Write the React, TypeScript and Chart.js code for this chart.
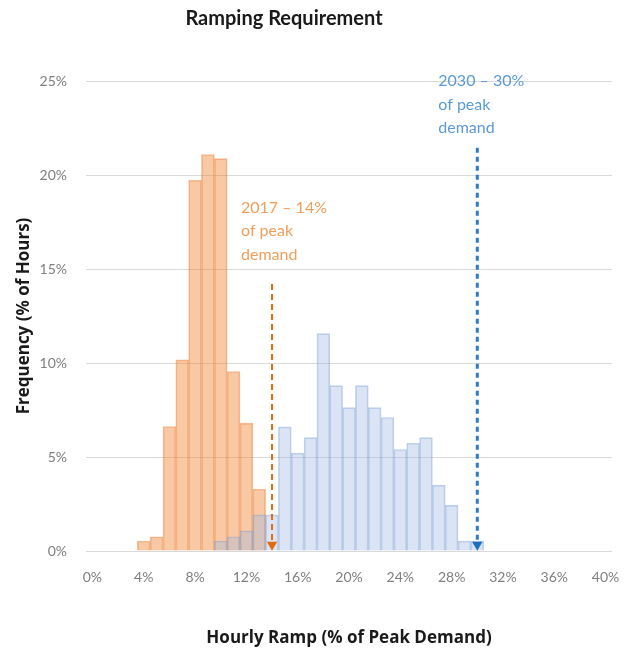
import React, { useEffect, useRef } from 'react';
import { Chart, registerables } from 'chart.js';

Chart.register(...registerables);

// Ramp bins (category axis), one per 1% of peak demand
const binLabels = [
  '0%', '1%', '2%', '3%', '4%', '5%', '6%', '7%', '8%', '9%',
  '10%', '11%', '12%', '13%', '14%', '15%', '16%', '17%', '18%', '19%',
  '20%', '21%', '22%', '23%', '24%', '25%', '26%', '27%', '28%', '29%',
  '30%', '31%', '32%', '33%', '34%', '35%', '36%', '37%', '38%', '39%', '40%',
];
const xTickLabels = ['0%', '4%', '8%', '12%', '16%', '20%', '24%', '28%', '32%', '36%', '40%'];

// Frequency (% of hours), 2017
const freq2017 = [
  null, null, null, null, 0.53, 0.76, 6.62, 10.17, 19.72, 21.09,
  20.87, 9.55, 6.8, 3.3, null, null, null, null, null, null,
  null, null, null, null, null, null, null, null, null, null,
  null, null, null, null, null, null, null, null, null, null, null,
];
// Frequency (% of hours), 2030
const freq2030 = [
  null, null, null, null, null, null, null, null, null, null,
  0.53, 0.76, 1.07, 1.92, 1.92, 6.6, 5.21, 6.03, 11.56, 8.8,
  7.63, 8.8, 7.63, 7.1, 5.4, 5.73, 6.03, 3.5, 2.43, 0.53,
  0.53, null, null, null, null, null, null, null, null, null, null,
];

// Peak-requirement markers
const markerBins = ['14%', '30%'];
const markerTops = [14.2, 21.45];
const markerArrowBase = [0.33, 0.33];

const yMax = 25;
const yStep = 5;

const note2017 = ['2017 – 14%', 'of peak', 'demand'];
const note2030 = ['2030 – 30%', 'of peak', 'demand'];

const FONT = 'Lato, "Open Sans", sans-serif';
const TITLE_FONT = '"Open Sans", Lato, sans-serif';

const annotationPlugin = {
  id: 'annotationsAndTitle',
  afterDatasetsDraw(chart: any) {
    const { ctx, scales } = chart;
    const x = scales.x;
    const y = scales.y;
    ctx.save();
    ctx.textBaseline = 'middle';
    ctx.textAlign = 'left';
    ctx.font = `16px ${FONT}`;
    // 2017 note
    ctx.fillStyle = '#F19E5B';
    const ox = x.getPixelForValue(binLabels.indexOf(markerBins[0])) - 31;
    const oy = y.getPixelForValue(18.26);
    note2017.forEach((t, i) => ctx.fillText(t, ox, oy + i * 23.5));
    // 2030 note
    ctx.fillStyle = '#5B9BD5';
    const bx = x.getPixelForValue(binLabels.indexOf(markerBins[1])) - 39;
    const by = y.getPixelForValue(25);
    note2030.forEach((t, i) => ctx.fillText(t, bx, by + i * 23.5));
    // chart title
    ctx.textAlign = 'center';
    ctx.fillStyle = '#1a1a1a';
    ctx.font = `bold 20px ${FONT}`;
    ctx.fillText('Ramping Requirement', 284, 19);
    ctx.restore();
  },
};

export default function App() {
  const ref = useRef<HTMLCanvasElement | null>(null);

  useEffect(() => {
    if (!ref.current) return;
    const markerData = (i: number) => [
      { x: markerBins[i], y: markerTops[i] },
      { x: markerBins[i], y: markerArrowBase[i] },
    ];
    const chart = new Chart(ref.current, {
      type: 'bar',
      data: {
        labels: binLabels,
        datasets: [
          {
            type: 'line',
            label: '2017 marker',
            data: markerData(0) as any,
            borderColor: '#E46C0A',
            borderWidth: 2,
            borderDash: [6, 4],
            pointRadius: [0, 6],
            pointStyle: 'triangle',
            pointRotation: 180,
            pointBackgroundColor: '#E46C0A',
            pointBorderWidth: 0,
            order: 0,
          } as any,
          {
            type: 'line',
            label: '2030 marker',
            data: markerData(1) as any,
            borderColor: '#2E7BC4',
            borderWidth: 3,
            borderDash: [5, 4],
            pointRadius: [0, 6],
            pointStyle: 'triangle',
            pointRotation: 180,
            pointBackgroundColor: '#1F6FBF',
            pointBorderWidth: 0,
            order: 0,
          } as any,
          {
            label: '2030',
            data: freq2030,
            backgroundColor: 'rgba(160,185,225,0.38)',
            borderColor: 'rgba(120,155,210,0.45)',
            borderWidth: 1,
            grouped: false,
            barPercentage: 1,
            categoryPercentage: 1,
            order: 1,
          } as any,
          {
            label: '2017',
            data: freq2017,
            backgroundColor: 'rgba(242,135,55,0.45)',
            borderColor: 'rgba(237,125,49,0.5)',
            borderWidth: 1,
            grouped: false,
            barPercentage: 1,
            categoryPercentage: 1,
            order: 2,
          } as any,
        ],
      },
      options: {
        responsive: false,
        animation: false,
        devicePixelRatio: 1,
        layout: { padding: { top: 81, right: 12, bottom: 0, left: 0 } },
        plugins: {
          legend: { display: false },
          tooltip: { enabled: false },
          title: { display: false },
        },
        scales: {
          x: {
            type: 'category',
            offset: true,
            grid: { display: false, drawTicks: false },
            border: { display: false },
            ticks: {
              autoSkip: false,
              maxRotation: 0,
              minRotation: 0,
              padding: 18,
              color: '#7F7F7F',
              font: { family: FONT, size: 14 },
              callback: (_v: any, i: number) =>
                xTickLabels.includes(binLabels[i]) ? binLabels[i] : '',
            },
            title: {
              display: true,
              text: 'Hourly Ramp (% of Peak Demand)',
              color: '#1a1a1a',
              font: { family: TITLE_FONT, size: 17, weight: 'bold' },
              padding: { top: 0, bottom: 4 },
            },
            afterFit: (s: any) => {
              s.height = 101;
              s.paddingLeft = 0;
              s.paddingRight = 0;
            },
          },
          y: {
            min: 0,
            max: yMax,
            grid: { color: '#D9D9D9', drawTicks: false, lineWidth: 1 },
            border: { display: false },
            ticks: {
              stepSize: yStep,
              padding: 19,
              color: '#7F7F7F',
              font: { family: FONT, size: 14 },
              callback: (v: any) => `${v}%`,
            },
            title: {
              display: true,
              text: 'Frequency (% of Hours)',
              color: '#1a1a1a',
              font: { family: TITLE_FONT, size: 17, weight: 'bold' },
              padding: { top: 14, bottom: 0 },
            },
            afterFit: (s: any) => {
              s.width = 86;
              s.paddingTop = 0;
              s.paddingBottom = 0;
            },
          },
        },
      } as any,
      plugins: [annotationPlugin],
    });
    return () => chart.destroy();
  }, []);

  return (
    <div style={{ position: 'fixed', left: 0, top: 0, width: 624, height: 652, background: '#fff' }}>
      <canvas ref={ref} width={624} height={652} style={{ width: 624, height: 652 }} />
    </div>
  );
}
